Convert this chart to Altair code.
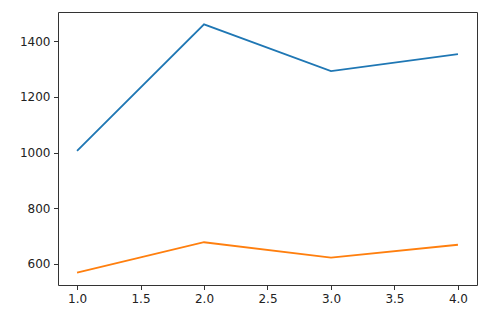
import altair as alt
import pandas as pd

x_vals = [1, 2, 3, 4]
series_a = [1006, 1460, 1292, 1353]
series_b = [569, 678, 623, 669]
x_ticks = [1.0, 1.5, 2.0, 2.5, 3.0, 3.5, 4.0]
y_ticks = [600, 800, 1000, 1200, 1400]

rows = []
for x, v in zip(x_vals, series_a):
    rows.append({"x": x, "y": v, "s": "a"})
for x, v in zip(x_vals, series_b):
    rows.append({"x": x, "y": v, "s": "b"})
df = pd.DataFrame(rows)

axis_common = dict(
    labelFont="DejaVu Sans", labelFontSize=12, labelColor="#222222",
    tickColor="#333333", tickSize=4.5, tickWidth=1, labelPadding=3.5,
    domain=False, grid=False, title=None,
)

chart = alt.Chart(df).mark_line(strokeWidth=1.8).encode(
    x=alt.X("x:Q", scale=alt.Scale(domain=[0.85, 4.15], nice=False, zero=False),
            axis=alt.Axis(values=x_ticks, format=".1f", **axis_common)),
    y=alt.Y("y:Q", scale=alt.Scale(domain=[524.5, 1504.5], nice=False, zero=False),
            axis=alt.Axis(values=y_ticks, format="d", **axis_common)),
    color=alt.Color("s:N", scale=alt.Scale(domain=["a", "b"], range=["#1f77b4", "#ff7f0e"]), legend=None),
).properties(
    width=419, height=273,
    background="white",
    autosize=alt.AutoSizeParams(type="none"),
    padding={"left": 58, "top": 12, "right": 26, "bottom": 34},
).configure_view(
    stroke="#333333", strokeWidth=1
)

chart.save("out.html", embed_options={"renderer": "svg", "actions": False})
